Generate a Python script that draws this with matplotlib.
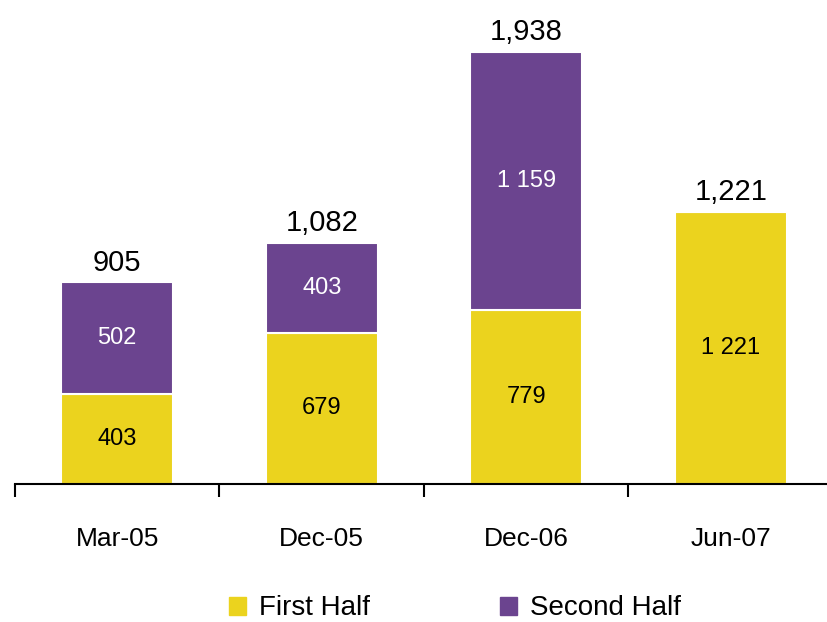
import matplotlib
matplotlib.use("Agg")
import matplotlib.pyplot as plt
from matplotlib.patches import Patch
from matplotlib import font_manager

# data
categories = ["Mar-05", "Dec-05", "Dec-06", "Jun-07"]
first_half = [403, 679, 779, 1221]
second_half = [502, 403, 1159, 0]
totals = ["905", "1,082", "1,938", "1,221"]
first_labels = ["403", "679", "779", "1 221"]
second_labels = ["502", "403", "1 159", ""]

yellow = "#EBD31E"
purple = "#6B448F"

names = {f.name for f in font_manager.fontManager.ttflist}
narrow = ["Liberation Sans Narrow", "Liberation Sans"] if "Liberation Sans Narrow" in names else ["Liberation Sans"]

fig = plt.figure(figsize=(8.27, 6.22), dpi=100)
ax = fig.add_axes([15 / 827, 1 - 484 / 622, 818 / 827, 484 / 622])

x = range(len(categories))
ax.bar(x, first_half, width=0.55, color=yellow, edgecolor="white", linewidth=1.5)
ax.bar(x, second_half, width=0.55, bottom=first_half, color=purple, edgecolor="white", linewidth=1.5)

for i in x:
    top = first_half[i] + second_half[i]
    ax.annotate(totals[i], (i, top), xytext=(0, 4), textcoords="offset points",
                ha="center", va="bottom", fontsize=21, family="Liberation Sans")
    ax.text(i, first_half[i] / 2, first_labels[i], ha="center", va="center",
            fontsize=17, color="black", family=narrow)
    if second_half[i] > 0:
        ax.text(i, first_half[i] + second_half[i] / 2, second_labels[i], ha="center", va="center",
                fontsize=17, color="white", family=narrow)

ax.set_xlim(-0.5, 3.5)
ax.set_ylim(0, 2171)
for s in ["left", "right", "top"]:
    ax.spines[s].set_visible(False)
ax.spines["bottom"].set_linewidth(1.5)
ax.set_yticks([])
ax.set_xticks(list(x))
ax.set_xticklabels(categories, fontsize=19, family=narrow)
ax.tick_params(axis="x", which="major", length=0, pad=31)
ax.set_xticks([-0.5, 0.5, 1.5, 2.5, 3.5], minor=True)
ax.tick_params(axis="x", which="minor", length=9, width=1.5, direction="out")

handles = [Patch(color=yellow, label="First Half"), Patch(color=purple, label="Second Half")]
fig.legend(handles=handles, loc="center", bbox_to_anchor=(0.55, 0.022), ncol=2, frameon=False,
           prop={"family": narrow, "size": 20}, handlelength=0.62, handleheight=0.62,
           handletextpad=0.45, columnspacing=4.7)

fig.savefig("out.png", dpi=100)
